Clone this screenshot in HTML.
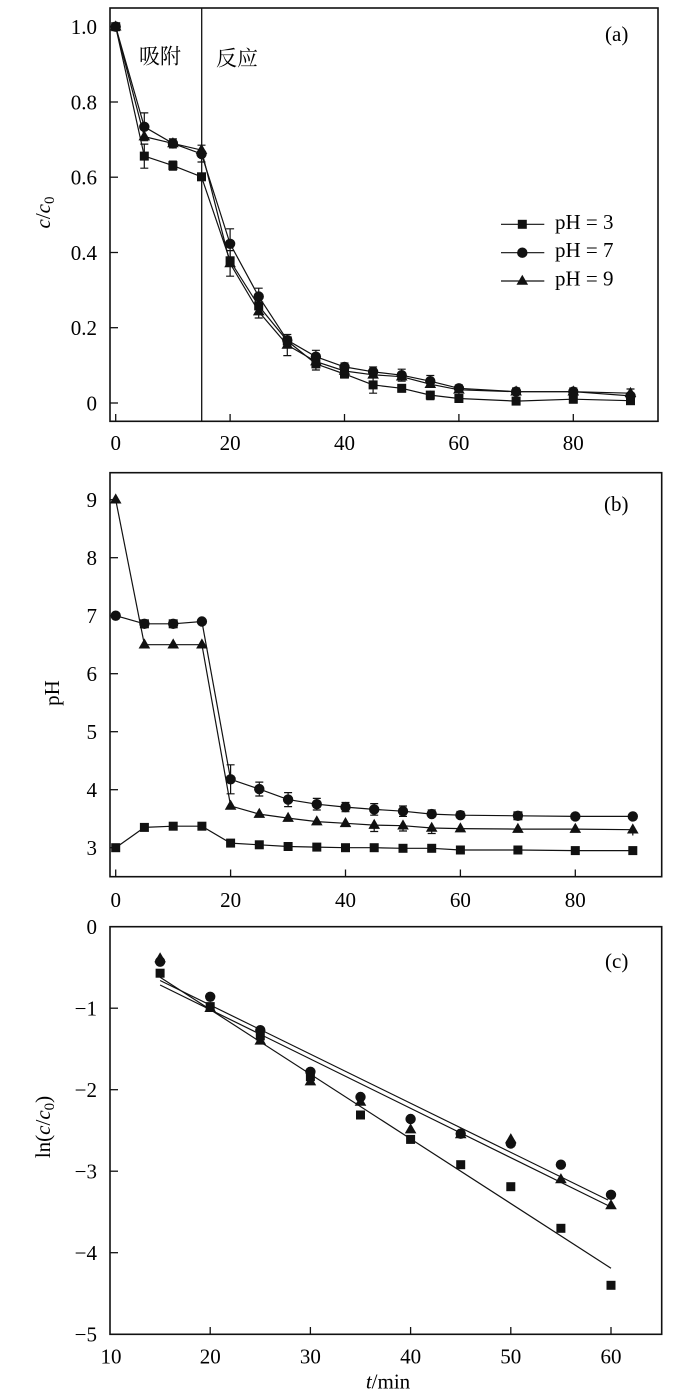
<!DOCTYPE html>
<html>
<head>
<meta charset="utf-8">
<style>
html,body{margin:0;padding:0;background:#fff;}
svg{display:block;}
text{font-family:"Liberation Serif","Noto Serif CJK SC",serif;font-size:21px;fill:#000;}
.cjk{font-family:"Liberation Serif","Noto Serif CJK SC","Noto Sans CJK SC",serif;font-size:21px;}
</style>
</head>
<body>
<svg width="700" height="1400" viewBox="0 0 700 1400" xmlns="http://www.w3.org/2000/svg">
<defs>
<path id="sq" d="M-4.5,-4.5h9v9h-9z" fill="#111"/>
<circle id="ci" r="5.2" fill="#111"/>
<path id="tr" d="M0,-6.3L5.8,3.8H-5.8Z" fill="#111"/>
</defs>

<!-- ================= Panel (a) ================= -->
<g stroke="#111" fill="none">
<rect x="110" y="8" width="548" height="413.3" stroke-width="1.6"/>
<line x1="201.7" y1="8" x2="201.7" y2="421.3" stroke-width="1.3"/>
<g stroke-width="1.3">
<line x1="110" y1="26.7" x2="118" y2="26.7"/>
<line x1="110" y1="102" x2="118" y2="102"/>
<line x1="110" y1="177.2" x2="118" y2="177.2"/>
<line x1="110" y1="252.5" x2="118" y2="252.5"/>
<line x1="110" y1="327.7" x2="118" y2="327.7"/>
<line x1="110" y1="403" x2="118" y2="403"/>
<line x1="115.7" y1="421.3" x2="115.7" y2="414"/>
<line x1="230.1" y1="421.3" x2="230.1" y2="414"/>
<line x1="344.5" y1="421.3" x2="344.5" y2="414"/>
<line x1="458.9" y1="421.3" x2="458.9" y2="414"/>
<line x1="573.3" y1="421.3" x2="573.3" y2="414"/>
</g>
</g>
<g text-anchor="end">
<text x="97" y="34">1.0</text>
<text x="97" y="109.3">0.8</text>
<text x="97" y="184.5">0.6</text>
<text x="97" y="259.8">0.4</text>
<text x="97" y="335">0.2</text>
<text x="97" y="410.3">0</text>
</g>
<g text-anchor="middle">
<text x="115.7" y="450">0</text>
<text x="230.1" y="450">20</text>
<text x="344.5" y="450">40</text>
<text x="458.9" y="450">60</text>
<text x="573.3" y="450">80</text>
</g>
<text transform="translate(50,212.5) rotate(-90)" text-anchor="middle"><tspan font-style="italic">c</tspan>/<tspan font-style="italic">c</tspan><tspan font-size="15" dy="4">0</tspan></text>
<text class="cjk" x="139" y="63.5">吸附</text>
<text class="cjk" x="216" y="65.5">反应</text>
<text x="605" y="41">(a)</text>

<g stroke="#111" stroke-width="1.2" fill="none">
<path d="M144.3,112.9V140.7M140.3,112.9h8M140.3,140.7h8"/>
<path d="M144.3,144.1V168.2M140.3,144.1h8M140.3,168.2h8"/>
<path d="M172.9,138.9V147.9M168.9,138.9h8M168.9,147.9h8"/>
<path d="M172.9,161.1V170.1M168.9,161.1h8M168.9,170.1h8"/>
<path d="M201.5,145.2V162M197.5,145.2h8M197.5,162h8"/>
<path d="M230.1,228.8V258.9M226.1,228.8h8M226.1,258.9h8"/>
<path d="M230.1,250.6V276.2M226.1,250.6h8M226.1,276.2h8"/>
<path d="M258.7,288.2V304.8M254.7,288.2h8M254.7,304.8h8"/>
<path d="M258.7,305V318M254.7,318h8"/>
<path d="M287.3,334.5V355.6M283.3,334.5h8M283.3,355.6h8"/>
<path d="M315.9,350.3V363.1M311.9,350.3h8M311.9,363.1h8"/>
<path d="M315.9,358V370M311.9,370h8"/>
<path d="M344.5,363V378M340.5,363h8M340.5,378h8"/>
<path d="M373.1,376.6V393.2M369.1,376.6h8M369.1,393.2h8"/>
<path d="M373.1,367V376M369.1,367h8"/>
<path d="M401.7,369.2V381.2M397.7,369.2h8M397.7,381.2h8"/>
<path d="M401.7,384V392M397.7,392h8"/>
<path d="M430.3,375.5V387M426.3,375.5h8"/>
<path d="M430.3,390.6V399.6M426.3,399.6h8"/>
<path d="M458.9,385V401M454.9,385h8M454.9,401h8"/>
<path d="M516.1,388V403.5M512.1,388h8M512.1,403.5h8"/>
<path d="M573.3,388V403M569.3,388h8M569.3,403h8"/>
<path d="M630.5,389V403M626.5,389h8M626.5,403h8"/>
</g>

<g stroke="#111" stroke-width="1.2" fill="none">
<polyline points="115.7,26.7 144.3,156.1 172.9,165.6 201.5,176.8 230.1,260.8 258.7,305.9 287.3,340.9 315.9,363.9 344.5,374.0 373.1,384.9 401.7,388.3 430.3,395.1 458.9,398.5 516.1,401.1 573.3,399.2 630.5,400.7"/>
<polyline points="115.7,26.7 144.3,126.8 172.9,143.4 201.5,153.9 230.1,243.8 258.7,296.5 287.3,340.2 315.9,356.7 344.5,366.9 373.1,371.8 401.7,375.2 430.3,381.2 458.9,388.3 516.1,391.7 573.3,391.7 630.5,395.9"/>
<polyline points="115.7,26.7 144.3,136.6 172.9,143.4 201.5,150.1 230.1,263.4 258.7,311.6 287.3,345.0 315.9,361.6 344.5,371.0 373.1,374.8 401.7,376.7 430.3,384.2 458.9,389.8 516.1,391.7 573.3,391.7 630.5,393.2"/>
</g>
<g>
<use href="#sq" x="115.7" y="26.7"/><use href="#sq" x="144.3" y="156.1"/><use href="#sq" x="172.9" y="165.6"/><use href="#sq" x="201.5" y="176.8"/><use href="#sq" x="230.1" y="260.8"/><use href="#sq" x="258.7" y="305.9"/><use href="#sq" x="287.3" y="340.9"/><use href="#sq" x="315.9" y="363.9"/><use href="#sq" x="344.5" y="374.0"/><use href="#sq" x="373.1" y="384.9"/><use href="#sq" x="401.7" y="388.3"/><use href="#sq" x="430.3" y="395.1"/><use href="#sq" x="458.9" y="398.5"/><use href="#sq" x="516.1" y="401.1"/><use href="#sq" x="573.3" y="399.2"/><use href="#sq" x="630.5" y="400.7"/>
<use href="#ci" x="115.7" y="26.7"/><use href="#ci" x="144.3" y="126.8"/><use href="#ci" x="172.9" y="143.4"/><use href="#ci" x="201.5" y="153.9"/><use href="#ci" x="230.1" y="243.8"/><use href="#ci" x="258.7" y="296.5"/><use href="#ci" x="287.3" y="340.2"/><use href="#ci" x="315.9" y="356.7"/><use href="#ci" x="344.5" y="366.9"/><use href="#ci" x="373.1" y="371.8"/><use href="#ci" x="401.7" y="375.2"/><use href="#ci" x="430.3" y="381.2"/><use href="#ci" x="458.9" y="388.3"/><use href="#ci" x="516.1" y="391.7"/><use href="#ci" x="573.3" y="391.7"/><use href="#ci" x="630.5" y="395.9"/>
<use href="#tr" x="115.7" y="26.7"/><use href="#tr" x="144.3" y="136.6"/><use href="#tr" x="172.9" y="143.4"/><use href="#tr" x="201.5" y="150.1"/><use href="#tr" x="230.1" y="263.4"/><use href="#tr" x="258.7" y="311.6"/><use href="#tr" x="287.3" y="345.0"/><use href="#tr" x="315.9" y="361.6"/><use href="#tr" x="344.5" y="371.0"/><use href="#tr" x="373.1" y="374.8"/><use href="#tr" x="401.7" y="376.7"/><use href="#tr" x="430.3" y="384.2"/><use href="#tr" x="458.9" y="389.8"/><use href="#tr" x="516.1" y="391.7"/><use href="#tr" x="573.3" y="391.7"/><use href="#tr" x="630.5" y="393.2"/>
</g>

<g stroke="#111" stroke-width="1.2">
<line x1="501" y1="224.3" x2="544.3" y2="224.3"/>
<line x1="501" y1="252.7" x2="544.3" y2="252.7"/>
<line x1="501" y1="281" x2="544.3" y2="281"/>
</g>
<use href="#sq" x="522.3" y="224.3"/>
<use href="#ci" x="522.3" y="252.7"/>
<use href="#tr" x="522.3" y="281"/>
<text x="555" y="228.8">pH = 3</text>
<text x="555" y="257.2">pH = 7</text>
<text x="555" y="285.5">pH = 9</text>

<!-- ================= Panel (b) ================= -->
<g stroke="#111" fill="none">
<rect x="110" y="472.7" width="551.7" height="404" stroke-width="1.6"/>
<g stroke-width="1.3">
<line x1="110" y1="499.7" x2="118" y2="499.7"/>
<line x1="110" y1="557.7" x2="118" y2="557.7"/>
<line x1="110" y1="615.7" x2="118" y2="615.7"/>
<line x1="110" y1="673.7" x2="118" y2="673.7"/>
<line x1="110" y1="731.7" x2="118" y2="731.7"/>
<line x1="110" y1="789.7" x2="118" y2="789.7"/>
<line x1="110" y1="847.7" x2="118" y2="847.7"/>
<line x1="115.7" y1="876.7" x2="115.7" y2="869.5"/>
<line x1="230.6" y1="876.7" x2="230.6" y2="869.5"/>
<line x1="345.5" y1="876.7" x2="345.5" y2="869.5"/>
<line x1="460.4" y1="876.7" x2="460.4" y2="869.5"/>
<line x1="575.3" y1="876.7" x2="575.3" y2="869.5"/>
</g>
</g>
<g text-anchor="end">
<text x="97" y="507">9</text>
<text x="97" y="565">8</text>
<text x="97" y="623">7</text>
<text x="97" y="681">6</text>
<text x="97" y="739">5</text>
<text x="97" y="797">4</text>
<text x="97" y="855">3</text>
</g>
<g text-anchor="middle">
<text x="115.7" y="907">0</text>
<text x="230.6" y="907">20</text>
<text x="345.5" y="907">40</text>
<text x="460.4" y="907">60</text>
<text x="575.3" y="907">80</text>
</g>
<text transform="translate(59,693) rotate(-90)" text-anchor="middle">pH</text>
<text x="604" y="511">(b)</text>

<g stroke="#111" stroke-width="1.2" fill="none">
<path d="M230.6,764.8V793.8M226.6,764.8h8M226.6,793.8h8"/>
<path d="M259.3,782.1V796M255.3,782.1h8M255.3,796h8"/>
<path d="M288.1,792.6V806.6M284.1,792.6h8M284.1,806.6h8"/>
<path d="M316.8,798.4V810M312.8,798.4h8M312.8,810h8"/>
<path d="M345.5,802.5V811.7M341.5,802.5h8M341.5,811.7h8"/>
<path d="M374.2,803.6V815.2M370.2,803.6h8M370.2,815.2h8"/>
<path d="M374.2,820.5V831.5M370.2,831.5h8"/>
<path d="M403,806V816.4M399,806h8M399,816.4h8"/>
<path d="M403,821V831M399,831h8"/>
<path d="M431.7,810V818.5M427.7,810h8"/>
<path d="M431.7,823.4V833.5M427.7,833.5h8"/>
<path d="M460.4,811.5V819M456.4,811.5h8"/>
<path d="M632.8,825V835.5"/>
</g>
<g stroke="#111" stroke-width="1.2" fill="none">
<polyline points="115.7,847.7 144.4,827.4 173.2,826.2 201.9,826.2 230.6,843.1 259.3,844.8 288.1,846.5 316.8,847.1 345.5,847.7 374.2,847.7 403,848.3 431.7,848.3 460.4,850.0 517.9,850.0 575.3,850.6 632.8,850.6"/>
<polyline points="115.7,615.7 144.4,623.8 173.2,623.8 201.9,621.5 230.6,779.3 259.3,789.1 288.1,799.6 316.8,804.2 345.5,807.1 374.2,809.4 403,811.2 431.7,814.1 460.4,815.2 517.9,815.8 575.3,816.4 632.8,816.4"/>
<polyline points="115.7,499.7 144.4,644.7 173.2,644.7 201.9,644.7 230.6,805.9 259.3,814.1 288.1,818.1 316.8,821.6 345.5,823.3 374.2,825.1 403,825.7 431.7,828.0 460.4,828.6 517.9,829.1 575.3,829.1 632.8,829.7"/>
</g>
<g>
<use href="#sq" x="115.7" y="847.7"/><use href="#sq" x="144.4" y="827.4"/><use href="#sq" x="173.2" y="826.2"/><use href="#sq" x="201.9" y="826.2"/><use href="#sq" x="230.6" y="843.1"/><use href="#sq" x="259.3" y="844.8"/><use href="#sq" x="288.1" y="846.5"/><use href="#sq" x="316.8" y="847.1"/><use href="#sq" x="345.5" y="847.7"/><use href="#sq" x="374.2" y="847.7"/><use href="#sq" x="403" y="848.3"/><use href="#sq" x="431.7" y="848.3"/><use href="#sq" x="460.4" y="850.0"/><use href="#sq" x="517.9" y="850.0"/><use href="#sq" x="575.3" y="850.6"/><use href="#sq" x="632.8" y="850.6"/>
<use href="#ci" x="115.7" y="615.7"/><use href="#sq" x="144.4" y="623.8"/><use href="#ci" x="144.4" y="623.8"/><use href="#sq" x="173.2" y="623.8"/><use href="#ci" x="173.2" y="623.8"/><use href="#ci" x="201.9" y="621.5"/><use href="#ci" x="230.6" y="779.3"/><use href="#ci" x="259.3" y="789.1"/><use href="#ci" x="288.1" y="799.6"/><use href="#ci" x="316.8" y="804.2"/><use href="#ci" x="345.5" y="807.1"/><use href="#ci" x="374.2" y="809.4"/><use href="#ci" x="403" y="811.2"/><use href="#ci" x="431.7" y="814.1"/><use href="#ci" x="460.4" y="815.2"/><use href="#sq" x="517.9" y="815.8"/><use href="#ci" x="517.9" y="815.8"/><use href="#ci" x="575.3" y="816.4"/><use href="#ci" x="632.8" y="816.4"/>
<use href="#tr" x="115.7" y="499.7"/><use href="#tr" x="144.4" y="644.7"/><use href="#tr" x="173.2" y="644.7"/><use href="#tr" x="201.9" y="644.7"/><use href="#tr" x="230.6" y="805.9"/><use href="#tr" x="259.3" y="814.1"/><use href="#tr" x="288.1" y="818.1"/><use href="#tr" x="316.8" y="821.6"/><use href="#tr" x="345.5" y="823.3"/><use href="#tr" x="374.2" y="825.1"/><use href="#tr" x="403" y="825.7"/><use href="#tr" x="431.7" y="828.0"/><use href="#tr" x="460.4" y="828.6"/><use href="#tr" x="517.9" y="829.1"/><use href="#tr" x="575.3" y="829.1"/><use href="#tr" x="632.8" y="829.7"/>
</g>

<!-- ================= Panel (c) ================= -->
<g stroke="#111" fill="none">
<rect x="110" y="926.7" width="551.7" height="407.6" stroke-width="1.6"/>
<g stroke-width="1.3">
<line x1="110" y1="1008.2" x2="118" y2="1008.2"/>
<line x1="110" y1="1089.7" x2="118" y2="1089.7"/>
<line x1="110" y1="1171.2" x2="118" y2="1171.2"/>
<line x1="110" y1="1252.7" x2="118" y2="1252.7"/>
<line x1="210.2" y1="1334.3" x2="210.2" y2="1327"/>
<line x1="310.4" y1="1334.3" x2="310.4" y2="1327"/>
<line x1="410.6" y1="1334.3" x2="410.6" y2="1327"/>
<line x1="510.8" y1="1334.3" x2="510.8" y2="1327"/>
<line x1="611" y1="1334.3" x2="611" y2="1327"/>
</g>
</g>
<g text-anchor="end">
<text x="97" y="934">0</text>
<text x="97" y="1015.5">−1</text>
<text x="97" y="1097">−2</text>
<text x="97" y="1178.5">−3</text>
<text x="97" y="1260">−4</text>
<text x="97" y="1341.6">−5</text>
</g>
<g text-anchor="middle">
<text x="111" y="1363.5">10</text>
<text x="210.2" y="1363.5">20</text>
<text x="310.4" y="1363.5">30</text>
<text x="410.6" y="1363.5">40</text>
<text x="510.8" y="1363.5">50</text>
<text x="611" y="1363.5">60</text>
</g>
<text x="388" y="1388.5" text-anchor="middle"><tspan font-style="italic">t</tspan>/min</text>
<text transform="translate(50,1127) rotate(-90)" text-anchor="middle">ln(<tspan font-style="italic">c</tspan>/<tspan font-style="italic">c</tspan><tspan font-size="15" dy="4">0</tspan><tspan dy="-4">)</tspan></text>
<text x="605" y="968">(c)</text>

<g stroke="#111" stroke-width="1.2">
<line x1="160.1" y1="977.2" x2="611" y2="1268.2"/>
<line x1="160.1" y1="980.5" x2="608" y2="1200"/>
<line x1="160.1" y1="985" x2="611" y2="1207"/>
</g>
<g>
<use href="#sq" x="160.1" y="973.2"/><use href="#sq" x="210.2" y="1006.6"/><use href="#sq" x="260.3" y="1035.9"/><use href="#sq" x="310.4" y="1076.7"/><use href="#sq" x="360.5" y="1115.0"/><use href="#sq" x="410.6" y="1139.4"/><use href="#sq" x="460.7" y="1164.7"/><use href="#sq" x="510.8" y="1186.7"/><use href="#sq" x="560.9" y="1228.3"/><use href="#sq" x="611" y="1285.3"/>
<use href="#ci" x="160.1" y="961.7"/><use href="#ci" x="210.2" y="996.8"/><use href="#ci" x="260.3" y="1030.2"/><use href="#ci" x="310.4" y="1071.8"/><use href="#ci" x="360.5" y="1097.0"/><use href="#ci" x="410.6" y="1119.0"/><use href="#ci" x="460.7" y="1133.7"/><use href="#ci" x="510.8" y="1143.5"/><use href="#ci" x="560.9" y="1164.7"/><use href="#ci" x="611" y="1194.8"/>
<use href="#tr" x="160.1" y="958.5"/><use href="#tr" x="210.2" y="1008.2"/><use href="#tr" x="260.3" y="1040.8"/><use href="#tr" x="310.4" y="1081.6"/><use href="#tr" x="360.5" y="1101.9"/><use href="#tr" x="410.6" y="1129.6"/><use href="#tr" x="460.7" y="1134.5"/><use href="#tr" x="510.8" y="1139.4"/><use href="#tr" x="560.9" y="1179.4"/><use href="#tr" x="611" y="1205.4"/>
</g>
</svg>
</body>
</html>
